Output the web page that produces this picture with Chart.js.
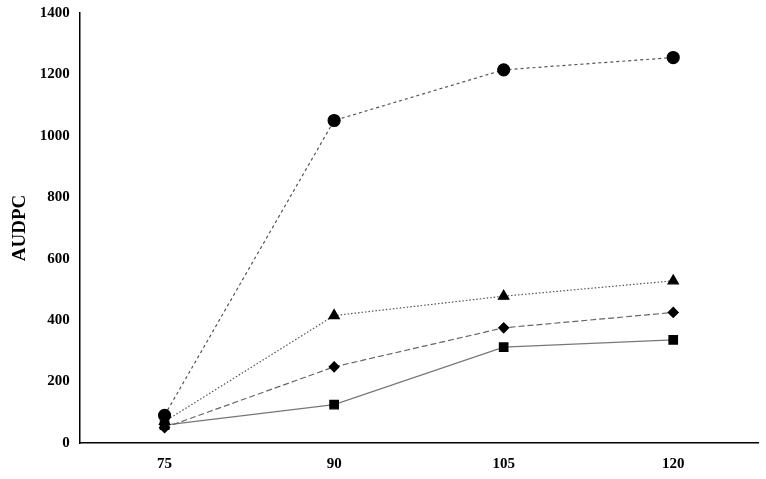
<!DOCTYPE html>
<html>
<head>
<meta charset="utf-8"/>
<script src="https://cdn.jsdelivr.net/npm/chart.js"></script>
<style>
html, body{ margin:0; background:#fff; }
#wrap{ width:766px; height:479px; }
</style>
</head>
<body>
<div id="wrap"><canvas id="c"></canvas></div>
<script>
const days = ['75', '90', '105', '120'];
const circleVals = [90, 1050, 1215, 1255];
const triangleVals = [70, 415, 478, 528];
const diamondVals = [50, 248, 375, 425];
const squareVals = [58, 125, 312, 336];
const yTicks = [0, 200, 400, 600, 800, 1000, 1200, 1400];

function series(data, style, dash, color){
  return {
    data: data,
    pointStyle: style,
    pointRadius: style === 'rectRot' ? 5 : 6,
    pointBackgroundColor: '#000',
    pointBorderColor: '#000',
    borderColor: color,
    borderWidth: 1.2,
    borderDash: dash,
    tension: 0
  };
}

new Chart(document.getElementById('c'), {
  type: 'line',
  data: {
    labels: days,
    datasets: [
      series(circleVals, 'circle', [3, 3], '#555'),
      series(triangleVals, 'triangle', [1.5, 2], '#555'),
      series(diamondVals, 'rectRot', [6, 3], '#666'),
      series(squareVals, 'rect', [], '#777')
    ]
  },
  options: {
    responsive: true,
    maintainAspectRatio: false,
    animation: false,
    layout: { padding: { top: 4, right: 8, bottom: 0, left: 5 } },
    plugins: { legend: { display: false }, tooltip: { enabled: false } },
    scales: {
      x: {
        offset: true,
        grid: { display: false, drawTicks: true, tickLength: 6, color: '#000' },
        border: { color: '#000', width: 1.5 },
        ticks: { color: '#000', font: { family: 'Liberation Serif', size: 15, weight: 'bold' }, padding: 6 }
      },
      y: {
        min: 0, max: 1400,
        afterBuildTicks: s => { s.ticks = yTicks.map(v => ({ value: v })); },
        grid: { display: false, drawTicks: true, tickLength: 6, color: '#000' },
        border: { color: '#000', width: 1.5 },
        title: { display: true, text: 'AUDPC', color: '#000', font: { family: 'Liberation Serif', size: 19, weight: 'bold' } },
        ticks: { color: '#000', font: { family: 'Liberation Serif', size: 15, weight: 'bold' }, padding: 4,
          callback: v => String(v) }
      }
    }
  }
});
</script>
</body>
</html>
